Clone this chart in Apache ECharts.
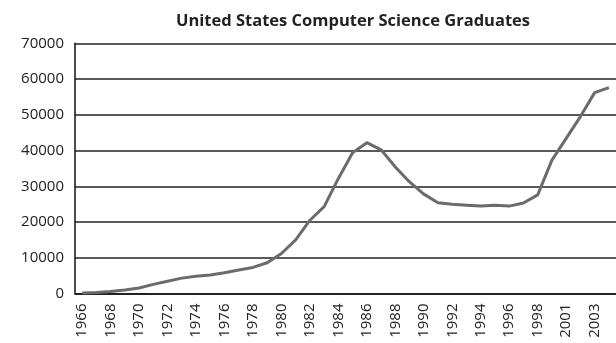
<!DOCTYPE html>
<html>
<head>
<meta charset="utf-8">
<script src="https://cdn.jsdelivr.net/npm/echarts@6/dist/echarts.min.js"></script>
<style>
html,body{margin:0;padding:0;background:#fff;}
#chart{width:616px;height:343px;}
</style>
</head>
<body>
<div id="chart"></div>
<script>
var titleText = "United States Computer Science Graduates";
var years = ["1966","1967","1968","1969","1970","1971","1972","1973","1974","1975",
  "1976","1977","1978","1979","1980","1981","1982","1983","1984","1985",
  "1986","1987","1988","1989","1990","1991","1992","1993","1994","1995",
  "1996","1997","1998","2000","2001","2002","2003","2004"];
var graduates = [150,300,550,950,1550,2550,3450,4300,4850,5150,
  5800,6600,7300,8600,11200,15000,20500,24300,32200,39400,
  42200,40200,35400,31200,27800,25400,24950,24700,24450,24700,
  24450,25300,27600,37300,43400,49500,56200,57600];
var yTicks = [0,10000,20000,30000,40000,50000,60000,70000];

var font = "'Open Sans', 'Liberation Sans', sans-serif";
var chart = echarts.init(document.getElementById('chart'), null, {renderer:'canvas'});
chart.setOption({
  animation:false,
  backgroundColor:'#ffffff',
  title:{
    text:titleText,
    left:348, top:8, textAlign:'center',
    textStyle:{fontFamily:font, fontWeight:'bold', fontSize:16.5, color:'#222'}
  },
  grid:{left:75, right:0, top:43.3, bottom:49.5, containLabel:false},
  xAxis:{
    type:'category', data:years, boundaryGap:true,
    axisLine:{show:true, lineStyle:{color:'#111', width:1.5}},
    axisTick:{show:false},
    axisLabel:{interval:1, rotate:90, margin:10, fontFamily:font, fontSize:15, color:'#222'},
    splitLine:{show:false}
  },
  yAxis:{
    type:'value', min:yTicks[0], max:yTicks[yTicks.length-1], interval:10000,
    axisLine:{show:true, lineStyle:{color:'#111', width:1.5}},
    axisTick:{show:false},
    axisLabel:{margin:11, fontFamily:font, fontSize:15, color:'#222',
      formatter:function(v){ return String(v); }},
    splitLine:{show:true, lineStyle:{color:'#222', width:1.5}}
  },
  series:[{
    type:'line', data:graduates, symbol:'none', smooth:false,
    lineStyle:{color:'#6b6b6b', width:3}
  }]
});
</script>
</body>
</html>
